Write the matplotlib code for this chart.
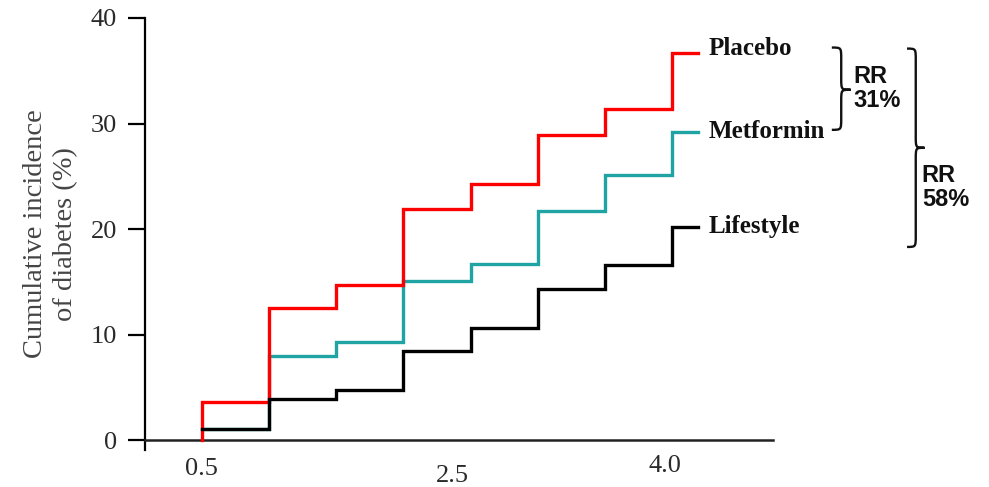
import matplotlib.pyplot as plt
from matplotlib.path import Path
from matplotlib.patches import PathPatch
from matplotlib.transforms import ScaledTranslation

# ----------------------------- дані -------------------------------------
years = [0.5, 1.0, 1.5, 2.0, 2.5, 3.0, 3.5, 4.0, 4.19]
placebo = [3.6, 12.5, 14.7, 21.9, 24.3, 28.9, 31.4, 36.7, 36.7]
metformin = [1.0, 8.0, 9.3, 15.1, 16.7, 21.7, 25.1, 29.2, 29.2]
lifestyle = [1.0, 3.9, 4.7, 8.4, 10.6, 14.3, 16.6, 20.2, 20.2]

names = ['Placebo', 'Metformin', 'Lifestyle']
colors = ['#ff0000', '#1fa3a3', '#000000']
yticks = [0, 10, 20, 30, 40]
xticks = [0.5, 2.5, 4.0]
xtick_labels = ['0.5', '2.5', '4.0']

serif = 'Liberation Serif'
sans = 'Liberation Sans'


def brace(ax, x0, x1, ybot, ytop, ytip, r):
    # фігурна дужка "}" з вістрям праворуч
    xm = (x0 + x1) / 2
    verts = [(x0, ytop), (xm, ytop), (xm, ytop), (xm, ytop - r),
             (xm, ytip + r),
             (xm, ytip), (xm, ytip), (x1, ytip),
             (xm, ytip), (xm, ytip), (xm, ytip - r),
             (xm, ybot + r),
             (xm, ybot), (xm, ybot), (x0, ybot)]
    codes = [Path.MOVETO, Path.CURVE4, Path.CURVE4, Path.CURVE4,
             Path.LINETO,
             Path.CURVE4, Path.CURVE4, Path.CURVE4,
             Path.CURVE4, Path.CURVE4, Path.CURVE4,
             Path.LINETO,
             Path.CURVE4, Path.CURVE4, Path.CURVE4]
    ax.add_patch(PathPatch(Path(verts, codes), fill=False, lw=1.7,
                           color='#111111', clip_on=False))


fig = plt.figure(figsize=(9.89, 4.87), dpi=100)
ax = fig.add_axes([145 / 989, 37.5 / 487, 628 / 989, 431.5 / 487])

# ------------------------- сходинки ------------------------------------
series = [placebo, metformin, lifestyle]
order = [1, 0, 2]  # metformin під рештою
for i in order:
    vals = series[i]
    xs, ys = years, vals
    if i == 0:
        xs = [years[0]] + years
        ys = [0] + vals
    ax.step(xs, ys, where='post', color=colors[i], lw=2.4,
            solid_joinstyle='miter', zorder=3 + (i != 1))

# --------------------- підписи серій -----------------------------------
dy = [4, 0, 0]
for i, name in enumerate(names):
    ax.annotate(name, xy=(years[-1], series[i][-1]), xytext=(11, dy[i]),
                textcoords='offset pixels', va='center', ha='left',
                fontsize=18, fontweight='bold', family=serif, color='#111111')

# ------------------------- осі -----------------------------------------
ax.set_xlim(0.0756, 4.752)
ax.set_ylim(-0.9, 40)
ax.spines['top'].set_visible(False)
ax.spines['right'].set_visible(False)
ax.spines['bottom'].set_position(('data', 0))
ax.spines['left'].set_linewidth(1.6)
ax.spines['bottom'].set_linewidth(1.8)
ax.spines['bottom'].set_color('#222222')

ax.set_yticks(yticks)
ax.set_yticklabels([str(v) for v in yticks], family=serif, fontsize=19, color='#2a2a2a')
ax.tick_params(axis='y', direction='out', length=12, width=1.6, pad=8)

ax.set_xticks(xticks)
ax.set_xticklabels(xtick_labels, family=serif, fontsize=19, color='#2a2a2a')
ax.tick_params(axis='x', length=0, pad=13)
shifts = [(-1, 0), (-18, -7), (-7, 3)]
for lab, (sx, sy) in zip(ax.get_xticklabels(), shifts):
    lab.set_transform(lab.get_transform() +
                      ScaledTranslation(sx / 100, sy / 100, fig.dpi_scale_trans))

# дрібні розриви осей, як на оригіналі
ax.set_yticks([5, 15, 25, 35], minor=True)
ax.set_xticks([1.0, 1.5, 2.0, 2.5, 3.0, 3.5, 4.0], minor=True)
ax.tick_params(which='minor', direction='inout', length=5, width=1.0, color='white')

ax.set_ylabel('Cumulative incidence\nof diabetes (%)', family=serif,
              fontsize=20.5, color='#444444', labelpad=9, linespacing=1.3)

# ------------------------ дужки RR -------------------------------------
brace(ax, 5.19, 5.33, 29.4, 37.2, 33.2, 1.1)
brace(ax, 5.75, 5.88, 18.3, 37.1, 27.7, 1.1)
ax.text(5.35, 33.3, 'RR\n31%', family=sans, fontsize=17, fontweight='bold',
        va='center', ha='left', linespacing=1.05, color='#111111')
ax.text(5.86, 23.9, 'RR\n58%', family=sans, fontsize=17, fontweight='bold',
        va='center', ha='left', linespacing=1.05, color='#111111')

fig.savefig('out.png', dpi=100)
